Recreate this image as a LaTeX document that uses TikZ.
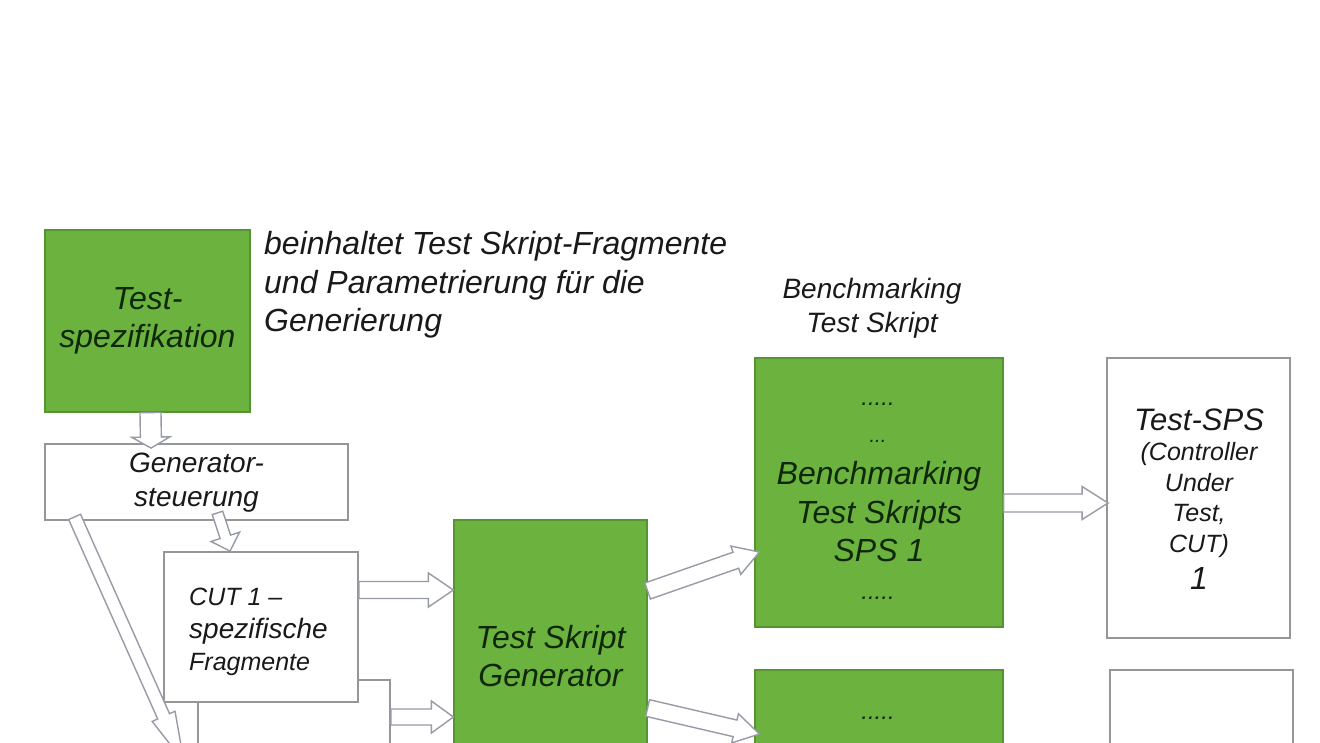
\documentclass[tikz,border=0pt]{standalone}
\usepackage{fontspec}
\setmainfont{Liberation Sans}
\usetikzlibrary{calc}
\definecolor{boxgreen}{RGB}{108,178,62}
\definecolor{boxgreenline}{RGB}{86,148,50}
\definecolor{txtgreen}{RGB}{16,40,10}
\definecolor{boxgray}{RGB}{150,150,150}
\definecolor{arrgray}{RGB}{150,155,165}
\definecolor{txtdark}{RGB}{25,25,25}
\newcommand\fsbig{\fontsize{32}{38.5}\selectfont}
\newcommand\fsmid{\fontsize{28}{34}\selectfont}
\newcommand\fssmall{\fontsize{25}{30.5}\selectfont}
\newcommand\blockarrow[5]{%
  \coordinate (bah) at ($(#2)!#5!(#1)$);
  \draw[barrow] ($(#1)!#3!90:(#2)$) -- ($(bah)!#3!90:(#2)$) -- ($(bah)!#4!90:(#2)$) -- (#2)
     -- ($(bah)!#4!-90:(#2)$) -- ($(bah)!#3!-90:(#2)$) -- ($(#1)!#3!-90:(#2)$) -- cycle;
}
\tikzset{
  greenbox/.style={draw=boxgreenline, fill=boxgreen, line width=1.2pt, inner sep=0pt},
  whitebox/.style={draw=boxgray, fill=white, line width=1.8pt, inner sep=0pt},
  barrow/.style={draw=arrgray, fill=white, line width=1.4pt, line join=miter},
  lbl/.style={inner sep=0pt, text=txtdark, font=\itshape, align=center},
  glbl/.style={inner sep=0pt, text=txtgreen, font=\itshape, align=center},
}
\begin{document}
\begin{tikzpicture}[x=1pt,y=-1pt]
\useasboundingbox (0,0) rectangle (1320,742);
\clip (0,0) rectangle (1320,742);
\fill[white] (0,0) rectangle (1320,742);

% boxes
\node[greenbox, minimum width=205pt, minimum height=182pt] (spec) at (147.5,321) {};
\node[whitebox, minimum width=303pt, minimum height=76pt] (gs) at (196.5,482) {};
\node[whitebox, minimum width=192pt, minimum height=130pt] (cut2) at (294,745) {};
\node[whitebox, minimum width=194pt, minimum height=150pt] (cut1) at (261,627) {};
\node[greenbox, minimum width=193pt, minimum height=290pt] (gen) at (550.5,665) {};
\node[greenbox, minimum width=248pt, minimum height=269pt] (b1) at (879,492.5) {};
\node[greenbox, minimum width=248pt, minimum height=130pt] (b2) at (879,735) {};
\node[whitebox, minimum width=183pt, minimum height=280pt] (sps1) at (1198.5,498) {};
\node[whitebox, minimum width=183pt, minimum height=130pt] (sps2) at (1201.5,735) {};

% texts
\node[glbl, font=\itshape\fsbig] (spect) at (spec.center) {Test-\\spezifikation};
\node[lbl, font=\itshape\fsbig, align=left, anchor=west] (desc) at (264,285)
  {beinhaltet Test Skript-Fragmente\\und Parametrierung für die\\Generierung};
\node[lbl, font=\itshape\fsmid] (gst) at (196.5,483) {Generator-\\steuerung};
\node[lbl, font=\itshape\fontsize{26}{32.5}\selectfont, align=left, anchor=west] (cut1t) at (189,632)
  {{\fssmall CUT 1 –}\\{\fontsize{28}{32.5}\selectfont spezifische}\\{\fssmall Fragmente}};
\node[glbl, font=\itshape\fsbig] (gent) at (550.5,656) {Test Skript\\Generator};
\node[lbl, font=\itshape\fsmid, align=center] (b1lbl) at (872,308) {Benchmarking\\Test Skript};
\node[glbl, font=\itshape\fontsize{24}{28}\selectfont] (b1d1) at (878,404) {.....};
\node[glbl, font=\itshape\fontsize{20}{24}\selectfont] (b1d2) at (878,441) {...};
\node[glbl, font=\itshape\fsbig] (b1t) at (879,512) {Benchmarking\\Test Skripts\\SPS 1};
\node[glbl, font=\itshape\fontsize{24}{28}\selectfont] (b1d3) at (878,598) {.....};
\node[glbl, font=\itshape\fontsize{24}{28}\selectfont] (b2d1) at (878,718) {.....};
\node[lbl, font=\itshape\fontsize{31}{36}\selectfont] (spst) at (1199,420) {Test-SPS};
\node[lbl, font=\itshape\fssmall] (spsc) at (1199,500) {(Controller\\Under\\Test,\\CUT)};
\node[lbl, font=\itshape\fsbig] (spsn) at (1199,578) {1};

% arrow end points
\coordinate (a1s) at ($(spec.south)+(3,0)$);
\coordinate (a1e) at ($(gs.north)+(-45.5,5)$);
\coordinate (a2s) at ($(gs.south)+(21,-8)$);
\coordinate (a2e) at ($(cut1.north)+(-31,0)$);
\coordinate (a3s) at ($(gs.south west)+(30.5,-4)$);
\coordinate (a3e) at (184,762);
\coordinate (a4s) at ($(cut1.east)+(0,-37)$);
\coordinate (a4e) at ($(gen.west)+(0,-75)$);
\coordinate (a5s) at ($(cut2.east)+(0,-28)$);
\coordinate (a5e) at ($(gen.west)+(0,52)$);
\coordinate (a6s) at ($(gen.east)+(0,-74)$);
\coordinate (a6e) at ($(b1.west)+(5,59.5)$);
\coordinate (a7s) at ($(gen.east)+(0,43)$);
\coordinate (a7e) at ($(b2.west)+(5,-1)$);
\coordinate (a8s) at ($(b1.east)+(0,10.5)$);
\coordinate (a8e) at ($(sps1.west)+(2,5)$);

% block arrows
\blockarrow{a1s}{a1e}{10.5pt}{19pt}{11pt}
\blockarrow{a2s}{a2e}{5.5pt}{15pt}{15pt}
\blockarrow{a3s}{a3e}{6.5pt}{12.5pt}{50pt}
\blockarrow{a4s}{a4e}{8.5pt}{17pt}{25pt}
\blockarrow{a5s}{a5e}{8pt}{16pt}{22pt}
\blockarrow{a6s}{a6e}{8.5pt}{15pt}{25pt}
\blockarrow{a7s}{a7e}{8.5pt}{15pt}{25pt}
\blockarrow{a8s}{a8e}{9pt}{16.5pt}{26pt}
\end{tikzpicture}
\end{document}
